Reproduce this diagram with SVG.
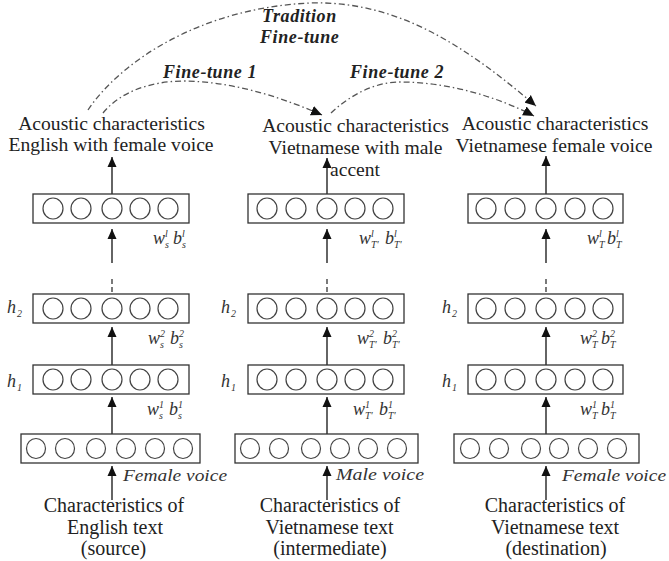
<svg xmlns="http://www.w3.org/2000/svg" width="669" height="561" viewBox="0 0 669 561">
  <defs>
    <style>
      .box { fill: #fff; stroke: #333; stroke-width: 1.3; }
      .neu { fill: #fff; stroke: #444; stroke-width: 1.2; }
      .ar { stroke: #111; stroke-width: 1.3; fill: none; marker-end: url(#ah); }
      .dots { stroke: #333; stroke-width: 1.3; stroke-dasharray: 5 3; }
      .arc { stroke: #555; stroke-width: 1.3; fill: none; stroke-dasharray: 6 3 1.5 3; marker-end: url(#ah2); }
      .t { font-family: "Liberation Serif", "Times New Roman", serif; font-size: 19.6px; fill: #222; text-anchor: middle; }
      .tb { font-family: "Liberation Serif", "Times New Roman", serif; font-size: 20px; fill: #222; text-anchor: middle; }
      .ft { font-family: "Liberation Serif", "Times New Roman", serif; font-size: 18px; font-weight: bold; font-style: italic; fill: #222; letter-spacing: 0.6px; }
      .voice { font-family: "Liberation Serif", "Times New Roman", serif; font-size: 17.5px; font-style: italic; fill: #333; }
      .m { font-family: "Liberation Serif", "Times New Roman", serif; font-size: 18px; font-style: italic; fill: #333; }
      .s { font-family: "Liberation Serif", "Times New Roman", serif; font-size: 10px; font-style: italic; fill: #333; }
    </style>
    <marker id="ah" viewBox="0 0 10 10" refX="10" refY="5" markerWidth="10" markerHeight="10" markerUnits="userSpaceOnUse" orient="auto">
      <path d="M0,0.5 L10,5 L0,9.5 z" fill="#111"/>
    </marker>
    <marker id="ah2" viewBox="0 0 10 10" refX="10" refY="5" markerWidth="11" markerHeight="11" markerUnits="userSpaceOnUse" orient="auto">
      <path d="M0,0.5 L10,5 L0,9.5 z" fill="#111"/>
    </marker>
  </defs>
  <rect width="669" height="561" fill="#fff"/>

  <!-- connectors -->
  <g id="connectors">
    <!-- column 1 (c = 112) -->
    <line class="ar" x1="112" y1="500" x2="112" y2="466"/>
    <line class="ar" x1="112" y1="434" x2="112" y2="397"/>
    <line class="ar" x1="112" y1="365" x2="112" y2="327"/>
    <line class="dots" x1="112" y1="279" x2="112" y2="294"/>
    <line class="ar" x1="112" y1="263" x2="112" y2="229"/>
    <line class="ar" x1="112" y1="194" x2="112" y2="157"/>
    <!-- column 2 (c = 327) -->
    <line class="ar" x1="327" y1="500" x2="327" y2="466"/>
    <line class="ar" x1="327" y1="434" x2="327" y2="397"/>
    <line class="ar" x1="327" y1="365" x2="327" y2="327"/>
    <line class="dots" x1="327" y1="279" x2="327" y2="294"/>
    <line class="ar" x1="327" y1="263" x2="327" y2="229"/>
    <line class="ar" x1="327" y1="194" x2="327" y2="158"/>
    <!-- column 3 (c = 546) -->
    <line class="ar" x1="546" y1="500" x2="546" y2="466"/>
    <line class="ar" x1="546" y1="434" x2="546" y2="397"/>
    <line class="ar" x1="546" y1="365" x2="546" y2="327"/>
    <line class="dots" x1="546" y1="279" x2="546" y2="294"/>
    <line class="ar" x1="546" y1="263" x2="546" y2="229"/>
    <line class="ar" x1="546" y1="194" x2="546" y2="156"/>

    <!-- fine-tuning transfers -->
    <path id="tradition" class="arc" d="M88,110 C120,62 200,8 310,3 C400,0 470,50 536,106"/>
    <path id="finetune1" class="arc" d="M103,113 C120,92 150,81 185,81 C240,82 290,101 322,115"/>
    <path id="finetune2" class="arc" d="M331,113 C350,95 375,82 400,82 C450,82 500,98 534,116"/>
  </g>

  <!-- transfer labels -->
  <g id="labels-transfer">
    <text class="ft" x="262" y="22">Tradition</text>
    <text class="ft" x="260" y="43">Fine-tune</text>
    <text class="ft" x="163" y="78">Fine-tune 1</text>
    <text class="ft" x="350" y="78">Fine-tune 2</text>
  </g>

  <!-- ===== column 1: source ===== -->
  <g id="out-text-1">
    <text class="t" x="111.5" y="130">Acoustic characteristics</text>
    <text class="t" x="111" y="151">English with female voice</text>
  </g>
  <g id="out-layer-1">
    <rect class="box" x="33" y="194" width="156" height="29"/>
    <ellipse class="neu" cx="53" cy="208.5" rx="10" ry="10.5"/>
    <ellipse class="neu" cx="81" cy="208.5" rx="10" ry="10.5"/>
    <ellipse class="neu" cx="112" cy="208.5" rx="10" ry="10.5"/>
    <ellipse class="neu" cx="140" cy="208.5" rx="10" ry="10.5"/>
    <ellipse class="neu" cx="168" cy="208.5" rx="10" ry="10.5"/>
    <text class="m" x="153" y="244">w</text><text class="s" x="165" y="237">l</text><text class="s" x="165" y="248">s</text>
    <text class="m" x="173" y="244">b</text><text class="s" x="182" y="237">l</text><text class="s" x="182" y="248">s</text>
  </g>
  <g id="h2-layer-1">
    <rect class="box" x="33" y="294" width="156" height="29"/>
    <ellipse class="neu" cx="53" cy="308.5" rx="10" ry="10.5"/>
    <ellipse class="neu" cx="81" cy="308.5" rx="10" ry="10.5"/>
    <ellipse class="neu" cx="112" cy="308.5" rx="10" ry="10.5"/>
    <ellipse class="neu" cx="140" cy="308.5" rx="10" ry="10.5"/>
    <ellipse class="neu" cx="168" cy="308.5" rx="10" ry="10.5"/>
    <text class="m" x="7" y="313">h</text><text class="s" x="17" y="317">2</text>
    <text class="m" x="148" y="344">w</text><text class="s" x="160" y="337">2</text><text class="s" x="160" y="348">s</text>
    <text class="m" x="170" y="344">b</text><text class="s" x="179" y="337">2</text><text class="s" x="179" y="348">s</text>
  </g>
  <g id="h1-layer-1">
    <rect class="box" x="33" y="365" width="156" height="29"/>
    <ellipse class="neu" cx="53" cy="379.5" rx="10" ry="10.5"/>
    <ellipse class="neu" cx="81" cy="379.5" rx="10" ry="10.5"/>
    <ellipse class="neu" cx="112" cy="379.5" rx="10" ry="10.5"/>
    <ellipse class="neu" cx="140" cy="379.5" rx="10" ry="10.5"/>
    <ellipse class="neu" cx="168" cy="379.5" rx="10" ry="10.5"/>
    <text class="m" x="7" y="387">h</text><text class="s" x="17" y="391">1</text>
    <text class="m" x="147" y="415">w</text><text class="s" x="159" y="408">1</text><text class="s" x="159" y="419">s</text>
    <text class="m" x="169" y="415">b</text><text class="s" x="178" y="408">1</text><text class="s" x="178" y="419">s</text>
  </g>
  <g id="in-layer-1">
    <rect class="box" x="21" y="434" width="179" height="29"/>
    <ellipse class="neu" cx="36" cy="448.5" rx="9.5" ry="10"/>
    <ellipse class="neu" cx="65" cy="448.5" rx="9.5" ry="10"/>
    <ellipse class="neu" cx="96" cy="448.5" rx="9.5" ry="10"/>
    <ellipse class="neu" cx="126" cy="448.5" rx="9.5" ry="10"/>
    <ellipse class="neu" cx="155" cy="448.5" rx="9.5" ry="10"/>
    <ellipse class="neu" cx="183" cy="448.5" rx="9.5" ry="10"/>
    <text class="voice" x="123" y="481" textLength="104" lengthAdjust="spacingAndGlyphs">Female voice</text>
  </g>
  <g id="in-text-1">
    <text class="tb" x="114" y="512">Characteristics of</text>
    <text class="tb" x="115" y="534">English text</text>
    <text class="tb" x="113.5" y="555">(source)</text>
  </g>

  <!-- ===== column 2: intermediate ===== -->
  <g id="out-text-2">
    <text class="t" x="355.5" y="132">Acoustic characteristics</text>
    <text class="t" x="355.5" y="154">Vietnamese with male</text>
    <text class="t" x="355" y="176">accent</text>
  </g>
  <g id="out-layer-2">
    <rect class="box" x="248" y="194" width="156" height="29"/>
    <ellipse class="neu" cx="267" cy="208.5" rx="10" ry="10.5"/>
    <ellipse class="neu" cx="296" cy="208.5" rx="10" ry="10.5"/>
    <ellipse class="neu" cx="327" cy="208.5" rx="10" ry="10.5"/>
    <ellipse class="neu" cx="355" cy="208.5" rx="10" ry="10.5"/>
    <ellipse class="neu" cx="383" cy="208.5" rx="10" ry="10.5"/>
    <text class="m" x="359" y="244">w</text><text class="s" x="371" y="237">l</text><text class="s" x="371" y="248">T′</text>
    <text class="m" x="385" y="244">b</text><text class="s" x="394" y="237">l</text><text class="s" x="394" y="248">T′</text>
  </g>
  <g id="h2-layer-2">
    <rect class="box" x="248" y="294" width="156" height="29"/>
    <ellipse class="neu" cx="267" cy="308.5" rx="10" ry="10.5"/>
    <ellipse class="neu" cx="296" cy="308.5" rx="10" ry="10.5"/>
    <ellipse class="neu" cx="327" cy="308.5" rx="10" ry="10.5"/>
    <ellipse class="neu" cx="355" cy="308.5" rx="10" ry="10.5"/>
    <ellipse class="neu" cx="383" cy="308.5" rx="10" ry="10.5"/>
    <text class="m" x="221" y="313">h</text><text class="s" x="231" y="317">2</text>
    <text class="m" x="357" y="344">w</text><text class="s" x="369" y="337">2</text><text class="s" x="369" y="348">T′</text>
    <text class="m" x="383" y="344">b</text><text class="s" x="392" y="337">2</text><text class="s" x="392" y="348">T′</text>
  </g>
  <g id="h1-layer-2">
    <rect class="box" x="248" y="365" width="156" height="29"/>
    <ellipse class="neu" cx="267" cy="379.5" rx="10" ry="10.5"/>
    <ellipse class="neu" cx="296" cy="379.5" rx="10" ry="10.5"/>
    <ellipse class="neu" cx="327" cy="379.5" rx="10" ry="10.5"/>
    <ellipse class="neu" cx="355" cy="379.5" rx="10" ry="10.5"/>
    <ellipse class="neu" cx="383" cy="379.5" rx="10" ry="10.5"/>
    <text class="m" x="221" y="387">h</text><text class="s" x="231" y="391">1</text>
    <text class="m" x="353" y="415">w</text><text class="s" x="365" y="408">1</text><text class="s" x="365" y="419">T′</text>
    <text class="m" x="379" y="415">b</text><text class="s" x="388" y="408">1</text><text class="s" x="388" y="419">T′</text>
  </g>
  <g id="in-layer-2">
    <rect class="box" x="235" y="434" width="183" height="29"/>
    <ellipse class="neu" cx="250" cy="448.5" rx="9.5" ry="10"/>
    <ellipse class="neu" cx="279" cy="448.5" rx="9.5" ry="10"/>
    <ellipse class="neu" cx="311" cy="448.5" rx="9.5" ry="10"/>
    <ellipse class="neu" cx="340" cy="448.5" rx="9.5" ry="10"/>
    <ellipse class="neu" cx="368" cy="448.5" rx="9.5" ry="10"/>
    <ellipse class="neu" cx="397" cy="448.5" rx="9.5" ry="10"/>
    <text class="voice" x="336" y="480" textLength="88" lengthAdjust="spacingAndGlyphs">Male voice</text>
  </g>
  <g id="in-text-2">
    <text class="tb" x="330" y="512">Characteristics of</text>
    <text class="tb" x="329.5" y="534">Vietnamese text</text>
    <text class="tb" x="330" y="555">(intermediate)</text>
  </g>

  <!-- ===== column 3: destination ===== -->
  <g id="out-text-3">
    <text class="t" x="555" y="130">Acoustic characteristics</text>
    <text class="t" x="554" y="152">Vietnamese female voice</text>
  </g>
  <g id="out-layer-3">
    <rect class="box" x="468" y="194" width="155" height="29"/>
    <ellipse class="neu" cx="486" cy="208.5" rx="10" ry="10.5"/>
    <ellipse class="neu" cx="515" cy="208.5" rx="10" ry="10.5"/>
    <ellipse class="neu" cx="546" cy="208.5" rx="10" ry="10.5"/>
    <ellipse class="neu" cx="575" cy="208.5" rx="10" ry="10.5"/>
    <ellipse class="neu" cx="603" cy="208.5" rx="10" ry="10.5"/>
    <text class="m" x="587" y="244">w</text><text class="s" x="599" y="237">l</text><text class="s" x="599" y="248">T</text>
    <text class="m" x="607" y="244">b</text><text class="s" x="616" y="237">l</text><text class="s" x="616" y="248">T</text>
  </g>
  <g id="h2-layer-3">
    <rect class="box" x="468" y="294" width="155" height="29"/>
    <ellipse class="neu" cx="486" cy="308.5" rx="10" ry="10.5"/>
    <ellipse class="neu" cx="515" cy="308.5" rx="10" ry="10.5"/>
    <ellipse class="neu" cx="546" cy="308.5" rx="10" ry="10.5"/>
    <ellipse class="neu" cx="575" cy="308.5" rx="10" ry="10.5"/>
    <ellipse class="neu" cx="603" cy="308.5" rx="10" ry="10.5"/>
    <text class="m" x="442" y="313">h</text><text class="s" x="452" y="317">2</text>
    <text class="m" x="580" y="344">w</text><text class="s" x="592" y="337">2</text><text class="s" x="592" y="348">T</text>
    <text class="m" x="601" y="344">b</text><text class="s" x="610" y="337">2</text><text class="s" x="610" y="348">T</text>
  </g>
  <g id="h1-layer-3">
    <rect class="box" x="468" y="365" width="155" height="29"/>
    <ellipse class="neu" cx="486" cy="379.5" rx="10" ry="10.5"/>
    <ellipse class="neu" cx="515" cy="379.5" rx="10" ry="10.5"/>
    <ellipse class="neu" cx="546" cy="379.5" rx="10" ry="10.5"/>
    <ellipse class="neu" cx="575" cy="379.5" rx="10" ry="10.5"/>
    <ellipse class="neu" cx="603" cy="379.5" rx="10" ry="10.5"/>
    <text class="m" x="442" y="387">h</text><text class="s" x="452" y="391">1</text>
    <text class="m" x="580" y="415">w</text><text class="s" x="592" y="408">1</text><text class="s" x="592" y="419">T</text>
    <text class="m" x="601" y="415">b</text><text class="s" x="610" y="408">1</text><text class="s" x="610" y="419">T</text>
  </g>
  <g id="in-layer-3">
    <rect class="box" x="454" y="434" width="185" height="29"/>
    <ellipse class="neu" cx="470" cy="448.5" rx="9.5" ry="10"/>
    <ellipse class="neu" cx="499" cy="448.5" rx="9.5" ry="10"/>
    <ellipse class="neu" cx="531" cy="448.5" rx="9.5" ry="10"/>
    <ellipse class="neu" cx="559" cy="448.5" rx="9.5" ry="10"/>
    <ellipse class="neu" cx="588" cy="448.5" rx="9.5" ry="10"/>
    <ellipse class="neu" cx="617" cy="448.5" rx="9.5" ry="10"/>
    <text class="voice" x="562" y="481" textLength="104" lengthAdjust="spacingAndGlyphs">Female voice</text>
  </g>
  <g id="in-text-3">
    <text class="tb" x="555" y="512">Characteristics of</text>
    <text class="tb" x="555" y="534">Vietnamese text</text>
    <text class="tb" x="556" y="555">(destination)</text>
  </g>
</svg>
